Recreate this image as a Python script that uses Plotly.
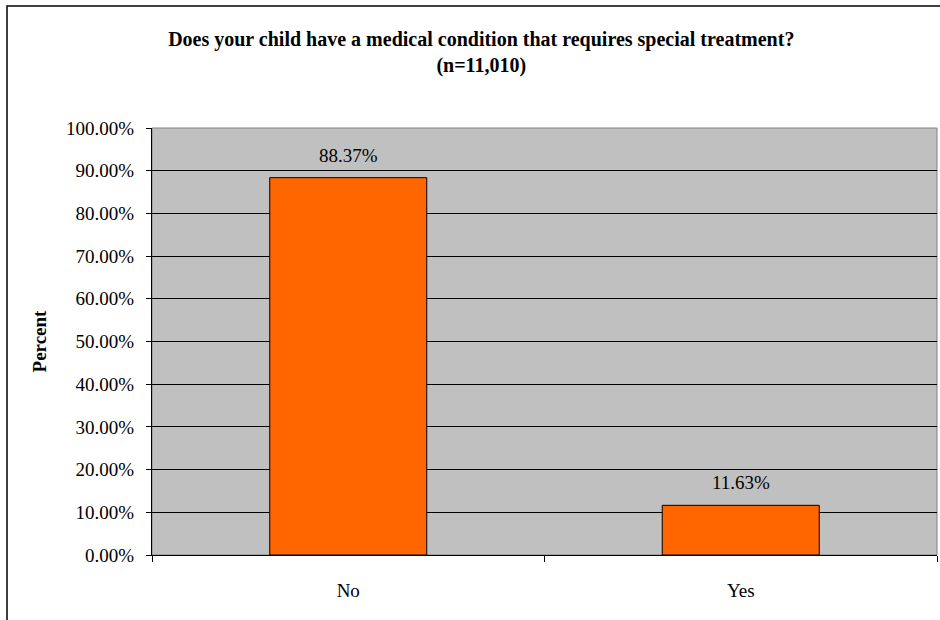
import plotly.graph_objects as go

categories = ["No", "Yes"]
values = [88.37, 11.63]
labels = ["88.37%", "11.63%"]
tick_vals = [0, 10, 20, 30, 40, 50, 60, 70, 80, 90, 100]
tick_text = ["0.00%", "10.00%", "20.00%", "30.00%", "40.00%", "50.00%",
             "60.00%", "70.00%", "80.00%", "90.00%", "100.00%"]

FONT = "Liberation Serif, Times New Roman, serif"
FS = 19

fig = go.Figure()
fig.add_trace(go.Bar(
    x=categories, y=values, width=0.4,
    marker=dict(color="#FF6600", line=dict(color="black", width=1)),
    hoverinfo="skip",
))
for c, v, t in zip(categories, values, labels):
    fig.add_annotation(x=c, y=v, text=t, showarrow=False, yanchor="bottom",
                       yshift=10, font=dict(family=FONT, size=FS, color="black"))

fig.update_layout(
    width=940, height=620,
    margin=dict(l=152, r=3, t=128, b=65),
    paper_bgcolor="white", plot_bgcolor="#C0C0C0",
    showlegend=False,
    font=dict(family=FONT, size=FS, color="black"),
    title=dict(
        text="<b>Does your child have a medical condition that requires special treatment?<br>(n=11,010)</b>",
        x=0.512, xanchor="center", xref="container", y=0.926, yanchor="top",
        font=dict(family=FONT, size=20, color="black"),
    ),
)
fig.update_xaxes(
    showgrid=False, showline=True, linecolor="black", linewidth=1,
    ticks="outside", tickson="boundaries", ticklen=6, tickcolor="black",
    ticklabelstandoff=18, tickfont=dict(family=FONT, size=FS),
)
fig.update_yaxes(
    range=[0, 100], tickvals=tick_vals, ticktext=tick_text,
    showgrid=True, gridcolor="black", gridwidth=1,
    showline=True, linecolor="black", linewidth=1,
    ticks="outside", ticklen=5, tickcolor="black",
    ticklabelstandoff=8, tickfont=dict(family=FONT, size=FS),
    title=dict(text="<b>Percent</b>", font=dict(family=FONT, size=FS), standoff=14),
    zeroline=False,
)
# plot-area frame (gray) and outer chart border
fig.add_shape(type="rect", xref="paper", yref="paper", x0=0, y0=0, x1=1, y1=1,
              line=dict(color="#808080", width=1), layer="below")
fig.add_shape(type="rect", xref="paper", yref="paper", x0=-0.1847, y0=-0.5,
              x1=1.2, y1=1.286, line=dict(color="black", width=1.5))

fig.write_html("out.html", config={"displayModeBar": False},
               post_script="document.body.style.margin='0px';")
